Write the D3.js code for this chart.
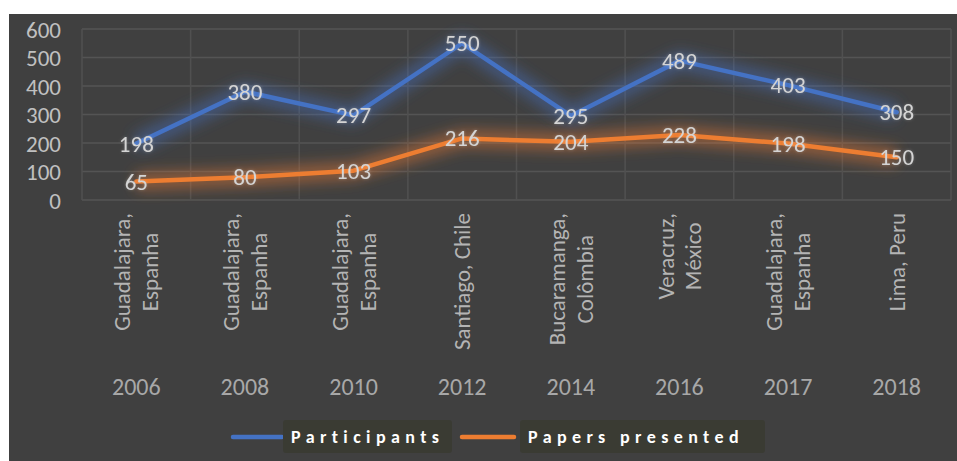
<!DOCTYPE html>
<html><head><meta charset="utf-8">
<script src="https://cdn.jsdelivr.net/npm/d3@7"></script>
<style>
html,body{margin:0;padding:0;background:#fff;}
svg{display:block;}
</style></head>
<body>
<div id="chart"></div>
<script>
const years = ["2006","2008","2010","2012","2014","2016","2017","2018"];
const places = [
  ["Guadalajara,","Espanha"],
  ["Guadalajara,","Espanha"],
  ["Guadalajara,","Espanha"],
  ["Santiago, Chile"],
  ["Bucaramanga,","Colômbia"],
  ["Veracruz,","México"],
  ["Guadalajara,","Espanha"],
  ["Lima, Peru"]
];
const participants = [198, 380, 297, 550, 295, 489, 403, 308];
const papers = [65, 80, 103, 216, 204, 228, 198, 150];
const yTicks = [0, 100, 200, 300, 400, 500, 600];
const seriesNames = ["Participants", "Papers presented"];
const seriesColors = ["#4472C4", "#ED7D31"];

const W = 957, H = 461;
const FONT = "Carlito, Calibri, Lato, 'Open Sans', sans-serif";
const svg = d3.select("#chart").append("svg").attr("width", W).attr("height", H);

const defs = svg.append("defs");
const glow = defs.append("filter").attr("id","glow").attr("x","-20%").attr("y","-60%").attr("width","140%").attr("height","220%");
glow.append("feGaussianBlur").attr("in","SourceGraphic").attr("stdDeviation",7);
const glowL = defs.append("filter").attr("id","glowL").attr("x","-50%").attr("y","-200%").attr("width","200%").attr("height","500%");
glowL.append("feGaussianBlur").attr("in","SourceGraphic").attr("stdDeviation",3);
const tglow = defs.append("filter").attr("id","tglow").attr("x","-20%").attr("y","-40%").attr("width","140%").attr("height","180%");
tglow.append("feGaussianBlur").attr("in","SourceAlpha").attr("stdDeviation",1.5).attr("result","b");
tglow.append("feFlood").attr("flood-color","#ffffff").attr("flood-opacity",0.25);
tglow.append("feComposite").attr("in2","b").attr("operator","in").attr("result","g");
const m = tglow.append("feMerge");
m.append("feMergeNode").attr("in","g");
m.append("feMergeNode").attr("in","SourceGraphic");

// panel
svg.append("rect").attr("x", 9).attr("y", 14).attr("width", W - 9).attr("height", H - 14).attr("fill", "#404040");

const x = d3.scaleBand().domain(years).range([82, 951]).padding(0);
const y = d3.scaleLinear().domain([0, 600]).range([200, 29]);

// gridlines
const g = svg.append("g");
g.selectAll("line.h").data(yTicks).join("line")
  .attr("x1", 82).attr("x2", 951)
  .attr("y1", d => y(d)).attr("y2", d => y(d))
  .attr("stroke", "#545454").attr("stroke-width", 1.5);
const vb = years.map(d => x(d)).concat([x.range()[1]]);
g.selectAll("line.v").data(vb).join("line")
  .attr("x1", d => d).attr("x2", d => d)
  .attr("y1", y(600)).attr("y2", y(0))
  .attr("stroke", "#505050").attr("stroke-width", 1.5);

// y axis labels
const yAxis = d3.axisLeft(y).tickValues(yTicks).tickSize(0).tickPadding(0);
const ya = svg.append("g").attr("transform", "translate(61,0)").call(yAxis);
ya.select(".domain").remove();
ya.selectAll("text").attr("font-family", FONT).attr("font-size", 23).attr("fill", "#c0c0c0").attr("dy", "0.35em");

// category labels
const cx = d => x(d) + x.bandwidth() / 2;
const cat = svg.append("g");
const CFS = 23;
years.forEach((yr, i) => {
  const lines = places[i];
  const n = lines.length;
  const lh = 28;
  const gg = cat.append("g").attr("transform", `translate(${cx(yr)},213) rotate(-90)`);
  const tmp = gg.append("text").attr("font-family", FONT).attr("font-size", CFS);
  const widths = lines.map(t => { tmp.text(t); return tmp.node().getComputedTextLength(); });
  tmp.remove();
  const maxW = d3.max(widths);
  lines.forEach((t, j) => {
    const off = (j - (n - 1) / 2) * lh;
    gg.append("text")
      .attr("x", -maxW / 2).attr("y", off)
      .attr("dy", "0.35em")
      .attr("text-anchor", "middle")
      .attr("font-family", FONT).attr("font-size", CFS)
      .attr("fill", "#b4b4b4")
      .text(t);
  });
});
// year labels
const xAxis = d3.axisBottom(x).tickSize(0).tickPadding(0);
const xa = svg.append("g").attr("transform", "translate(0,387)").call(xAxis);
xa.select(".domain").remove();
xa.selectAll("text").attr("font-family", FONT).attr("font-size", 24).attr("fill", "#a8a8a8").attr("dy", "0.35em");

// lines
const series = [participants, papers];
const line = d3.line().x((d, i) => cx(years[i])).y(d => y(d));
series.forEach((s, k) => {
  svg.append("path").attr("d", line(s)).attr("fill", "none")
    .attr("stroke", seriesColors[k]).attr("stroke-width", 18).attr("stroke-opacity", 0.45)
    .attr("stroke-linejoin", "round").attr("filter", "url(#glow)");
});
series.forEach((s, k) => {
  svg.append("path").attr("d", line(s)).attr("fill", "none")
    .attr("stroke", seriesColors[k]).attr("stroke-width", 4.5)
    .attr("stroke-linejoin", "round").attr("stroke-linecap", "round");
});
// data labels
series.forEach((s, k) => {
  svg.append("g").attr("filter", "url(#tglow)").selectAll("text").data(s).join("text")
    .attr("x", (d, i) => cx(years[i])).attr("y", d => y(d))
    .attr("dy", "0.35em").attr("text-anchor", "middle")
    .attr("font-family", FONT).attr("font-size", 23)
    .attr("fill", "#d4d4d4")
    .text(d => d);
});

// legend
const legend = [
  {name: seriesNames[0], color: seriesColors[0], lx1: 233, lx2: 282, bx: 283, bw: 169},
  {name: seriesNames[1], color: seriesColors[1], lx1: 462, lx2: 514, bx: 520, bw: 245}
];
const lg = svg.append("g");
legend.forEach(l => {
  lg.append("line").attr("x1", l.lx1).attr("x2", l.lx2).attr("y1", 437).attr("y2", 437)
    .attr("stroke", l.color).attr("stroke-width", 10).attr("stroke-opacity", 0.35).attr("filter", "url(#glowL)");
  lg.append("line").attr("x1", l.lx1).attr("x2", l.lx2).attr("y1", 437).attr("y2", 437)
    .attr("stroke", l.color).attr("stroke-width", 4.5).attr("stroke-linecap", "round");
  lg.append("rect").attr("x", l.bx).attr("y", 420).attr("width", l.bw).attr("height", 33).attr("rx", 3)
    .attr("fill", "#3a3b33");
  lg.append("text").attr("x", l.bx + 8).attr("y", 437).attr("dy", "0.35em")
    .attr("font-family", FONT).attr("font-size", 18).attr("font-weight", "bold")
    .attr("letter-spacing", "5.4px")
    .attr("fill", "#ffffff").text(l.name);
});
</script>
</body></html>
